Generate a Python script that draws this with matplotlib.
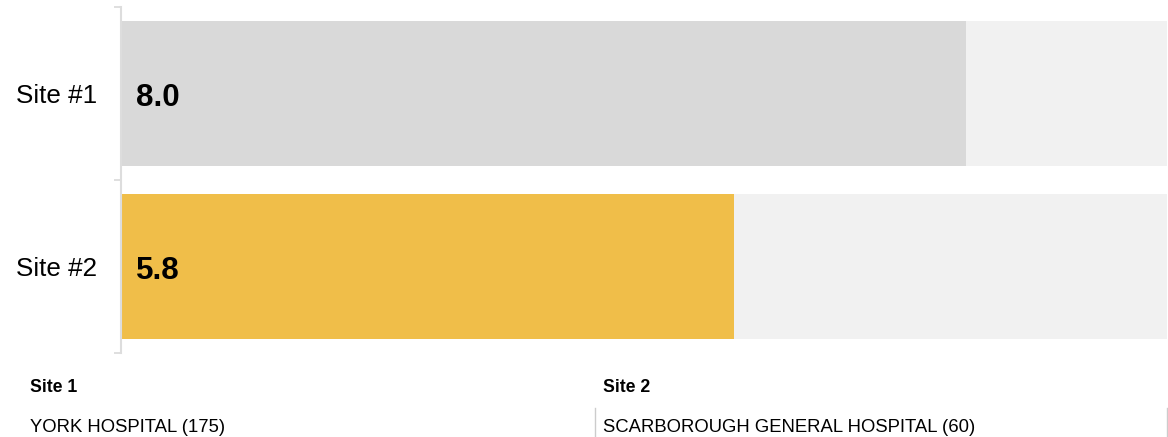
import matplotlib.pyplot as plt
from matplotlib.lines import Line2D

plt.rcParams['font.family'] = ['Liberation Sans', 'DejaVu Sans']

sites = ['Site #1', 'Site #2']
scores = [8.0, 5.8]
bar_colors = ['#d9d9d9', '#f0be49']
footer_titles = ['Site 1', 'Site 2']
footer_names = ['YORK HOSPITAL (175)', 'SCARBOROUGH GENERAL HOSPITAL (60)']

scale_max = 9.9

fig = plt.figure(figsize=(11.68, 4.37), dpi=100)
ax = fig.add_axes([121 / 1168, 1 - 353 / 437, 1046 / 1168, 346 / 437])

pos = list(range(len(sites)))
ax.barh(pos, [scale_max] * len(sites), height=0.84, color='#f1f1f1', zorder=1)
ax.barh(pos, scores, height=0.84, color=bar_colors, zorder=2)

for i, v in enumerate(scores):
    ax.annotate(f'{v:.1f}', xy=(0, i), xytext=(11, -3.5), textcoords='offset points',
                ha='left', va='center', fontsize=22.5, fontweight='bold', zorder=3)

ax.set_xlim(0, scale_max)
ax.set_ylim(1.5, -0.5)
ax.set_yticks([-0.5, 0.5, 1.5])
ax.set_yticklabels([])
ax.set_yticks(pos, minor=True)
ax.set_yticklabels(sites, minor=True, fontsize=18.7)
ax.tick_params(axis='y', which='major', length=5, width=1.2, color='#d9d9d9')
ax.tick_params(axis='y', which='minor', length=0, pad=17)
ax.set_xticks([])
for s in ['top', 'right', 'bottom']:
    ax.spines[s].set_visible(False)
ax.spines['left'].set_color('#dddddd')
ax.spines['left'].set_linewidth(1.5)

# footer with site names
for x0, title, name in zip([30, 603], footer_titles, footer_names):
    fig.text(x0 / 1168, 1 - 387 / 437, title, fontsize=12.7, fontweight='bold',
             ha='left', va='center')
    fig.text(x0 / 1168, 1 - 428 / 437, name, fontsize=13.3, ha='left', va='center')

for xl in [595, 1167]:
    fig.add_artist(Line2D([xl / 1168, xl / 1168], [0, 1 - 408 / 437],
                          transform=fig.transFigure, color='#cccccc', lw=1))

fig.savefig('out.png', dpi=100, facecolor='white')
